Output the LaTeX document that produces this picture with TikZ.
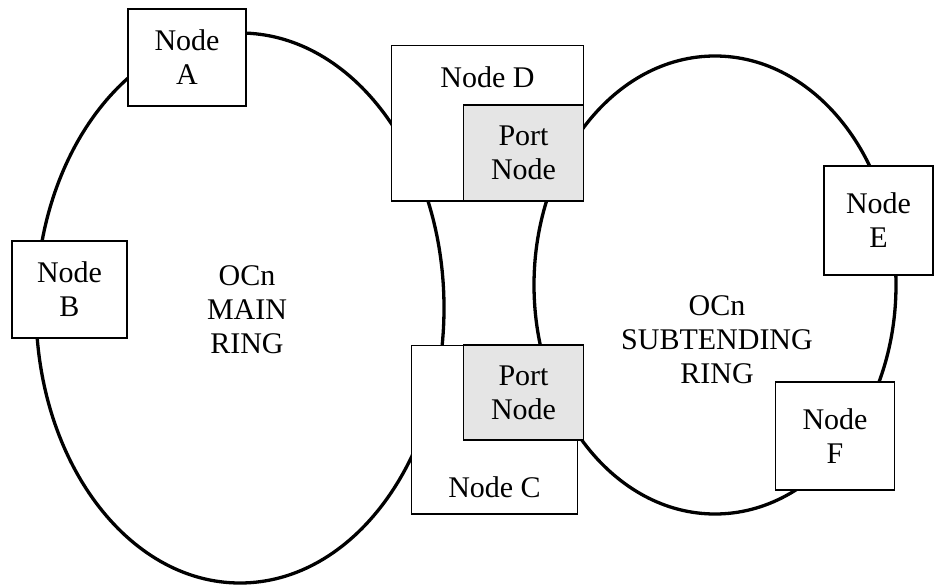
\documentclass[tikz,border=0pt]{standalone}
\usepackage{fontspec}
\setmainfont{Liberation Serif}

\begin{document}
\begin{tikzpicture}[x=1pt,y=-1pt]
			\tikzstyle{every node}=[font=\rmfamily\fontsize{30}{34}\selectfont, align=center]
			\tikzstyle{nodebox}=[draw, line width=1.9pt, fill=white, inner sep=0pt]
			\tikzstyle{portbox}=[nodebox, fill=black!10]
			\useasboundingbox (0,0) rectangle (934,586);
			
			% the two rings
			\draw [line width=3.3pt] (240,308) ellipse [x radius=204pt, y radius=275pt];
			\draw [line width=3.3pt] (715,285) ellipse [x radius=181pt, y radius=229pt];
			\node (mainring) at (247,310) {OCn\\MAIN\\RING};
			\node (subring) at (717,340) {OCn\\SUBTENDING\\RING};
			
			% nodes on the rings
			\node [nodebox, minimum width=118pt, minimum height=97pt] (nodeA) at (187,57.5) {Node\\A};
			\node [nodebox, minimum width=115pt, minimum height=97pt] (nodeB) at (69.5,289.5) {Node\\B};
			\node [nodebox, minimum width=109pt, minimum height=109pt] (nodeE) at (878.5,220.5) {Node\\E};
			\node [nodebox, minimum width=119pt, minimum height=108pt] (nodeF) at (835,436) {Node\\F};
			
			% shared nodes with their port nodes
			\node [nodebox, minimum width=192pt, minimum height=155.5pt] (nodeD) at (487.5,123.25) {};
			\node (labelD) at (487.5,77) {Node D};
			\node [portbox, minimum width=120pt, minimum height=96pt] (portD) at (523.5,153) {Port\\Node};
			
			\node [nodebox, minimum width=166pt, minimum height=168.5pt] (nodeC) at (494.5,429.75) {};
			\node (labelC) at (494.5,487) {Node C};
			\node [portbox, minimum width=120pt, minimum height=95pt] (portC) at (523.5,392.5) {Port\\Node};
			
\end{tikzpicture}
\end{document}
